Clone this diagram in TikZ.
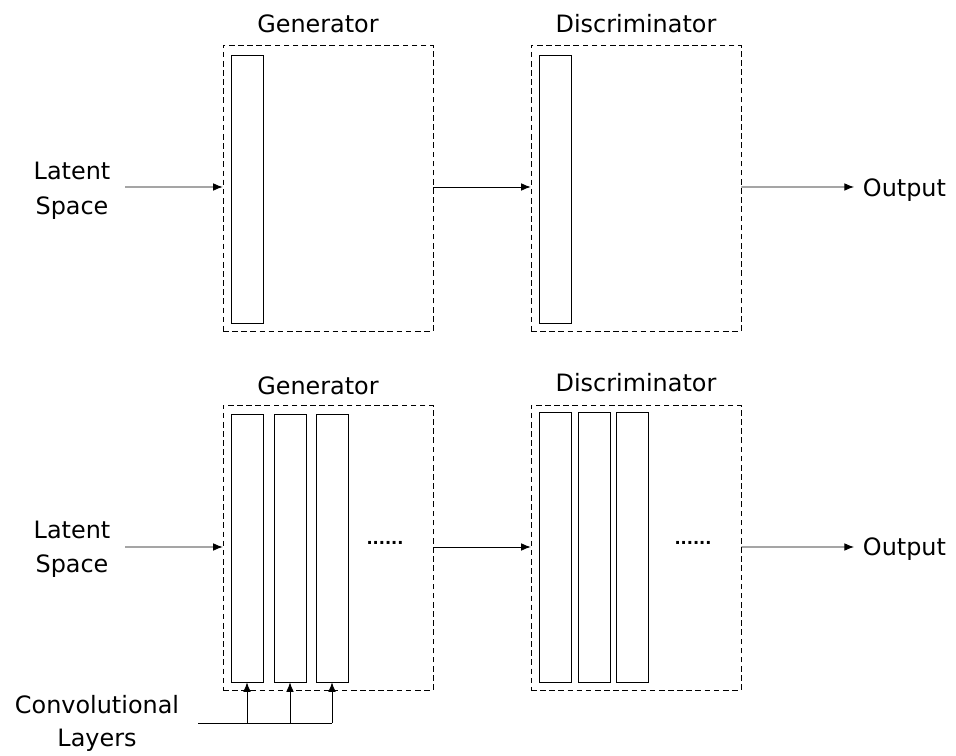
\documentclass[tikz,border=0pt]{standalone}
\usepackage{fontspec}
\setmainfont{DejaVu Sans}
\usetikzlibrary{arrows.meta,positioning,calc}

\begin{document}
\begin{tikzpicture}[
    block/.style={draw, dash pattern=on 4pt off 2.5pt, rectangle, minimum width=5.25cm, minimum height=7.15cm},
    layer/.style={draw, rectangle, minimum width=0.8cm, minimum height=6.7cm},
    lbl/.style={font=\fontsize{17}{24.5}\selectfont, align=center},
    dots/.style={font=\fontsize{11.5}{14}\selectfont\bfseries},
    arr/.style={-{Latex[length=2.4mm,width=1.9mm]}, semithick}
]
\useasboundingbox (0,0) rectangle (23.9,18.875);

% Top row: simple GAN
\node[block] (gen1) at (8.2,14.175) {};
\node[lbl] at (7.95,18.275) {Generator};
\node[layer] (g1bar) at (6.175,14.15) {};

\node[block] (dis1) at (15.9,14.175) {};
\node[lbl] at (15.9,18.275) {Discriminator};
\node[layer] (d1bar) at (13.875,14.15) {};

\node[lbl] (lat1) at (1.8,14.1) {Latent\\Space};
\node[lbl, anchor=west] (out1) at (21.45,14.125) {Output};

\draw[arr] ($(lat1.east)+(0.25,0.1)$) -- (gen1.west |- 0,14.2);
\draw[arr] (gen1.east |- 0,14.2) -- (dis1.west |- 0,14.2);
\draw[arr] (dis1.east |- 0,14.2) -- ($(out1.west)+(-0.1,0.075)$);

% Bottom row: convolutional GAN
\node[block, minimum height=7.125cm] (gen2) at (8.2,5.1875) {};
\node[lbl] at (7.95,9.225) {Generator};
\node[layer] (g2a) at (6.175,5.175) {};
\node[layer] (g2b) at (7.25,5.175) {};
\node[layer] (g2c) at (8.3,5.175) {};
\node[dots] (g2dots) at (9.625,5.3) {......};

\node[block, minimum height=7.125cm] (dis2) at (15.9,5.1875) {};
\node[lbl] at (15.9,9.3) {Discriminator};
\node[layer, minimum height=6.75cm] (d2a) at (13.875,5.2) {};
\node[layer, minimum height=6.75cm] (d2b) at (14.85,5.2) {};
\node[layer, minimum height=6.75cm] (d2c) at (15.8,5.2) {};
\node[dots] (d2dots) at (17.325,5.3) {......};

\node[lbl] (lat2) at (1.8,5.15) {Latent\\Space};
\node[lbl, anchor=west] (out2) at (21.45,5.15) {Output};

\draw[arr] ($(lat2.east)+(0.25,0.05)$) -- (gen2.west |- 0,5.2);
\draw[arr] (gen2.east |- 0,5.2) -- (dis2.west |- 0,5.2);
\draw[arr] (dis2.east |- 0,5.2) -- ($(out2.west)+(-0.1,0.05)$);

% Convolutional layers feed
\node[lbl, font=\fontsize{17}{23.5}\selectfont] (conv) at (2.425,0.8) {Convolutional\\Layers};
\coordinate (feed) at (4.95,0.8);
\draw[semithick] (feed) -- (g2c.south |- feed);
\foreach \b in {g2a,g2b,g2c}
    \draw[arr] (\b.south |- feed) -- (\b.south);

\end{tikzpicture}
\end{document}
